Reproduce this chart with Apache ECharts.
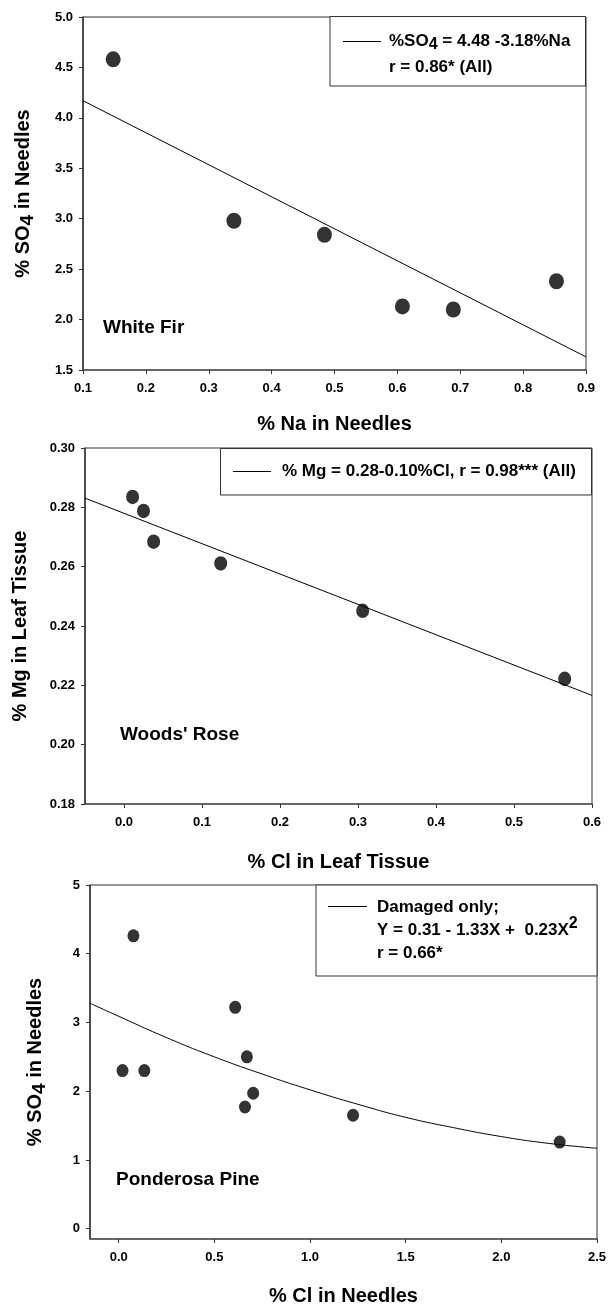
<!DOCTYPE html>
<html><head><meta charset="utf-8">
<script src="https://cdn.jsdelivr.net/npm/echarts@6/dist/echarts.min.js"></script>
<style>html,body{margin:0;padding:0;background:#fff}#c{width:610px;height:1307px}</style>
</head><body><div id="c"></div>
<script>
// ---------- Panel 1: White Fir ----------
const firNa = [0.148, 0.340, 0.484, 0.608, 0.689, 0.853];
const firSO4 = [4.58, 2.98, 2.84, 2.13, 2.10, 2.38];
const firFitX = [0.1, 0.9];
const firFitY = [4.17, 1.63];
const firXTicks = [0.1, 0.2, 0.3, 0.4, 0.5, 0.6, 0.7, 0.8, 0.9];
const firYTicks = [1.5, 2.0, 2.5, 3.0, 3.5, 4.0, 4.5, 5.0];
// ---------- Panel 2: Woods' Rose ----------
const roseCl = [0.011, 0.025, 0.038, 0.124, 0.306, 0.565];
const roseMg = [0.2835, 0.2788, 0.2684, 0.2611, 0.2451, 0.2222];
const roseFitX = [-0.05, 0.6];
const roseFitY = [0.2831, 0.2166];
const roseXTicks = [0.0, 0.1, 0.2, 0.3, 0.4, 0.5, 0.6];
const roseYTicks = [0.18, 0.20, 0.22, 0.24, 0.26, 0.28, 0.30];
// ---------- Panel 3: Ponderosa Pine ----------
const pineCl = [0.077, 0.609, 0.670, 0.020, 0.134, 0.703, 0.660, 1.225, 2.305];
const pineSO4 = [4.26, 3.22, 2.50, 2.30, 2.30, 1.97, 1.77, 1.65, 1.26];
const pineFitX = [-0.15, 0.0, 0.25, 0.5, 0.75, 1.0, 1.25, 1.5, 1.75, 2.0, 2.25, 2.5];
const pineFitY = [3.28, 3.09, 2.78, 2.50, 2.25, 2.02, 1.81, 1.62, 1.47, 1.34, 1.24, 1.17];
const pineXTicks = [0.0, 0.5, 1.0, 1.5, 2.0, 2.5];
const pineYTicks = [0, 1, 2, 3, 4, 5];

const FONT = "'Liberation Sans', Arial, sans-serif";
const zip = (a, b) => a.map((v, i) => [v, b[i]]);

const subRich = {
  s: { fontSize: 16, fontWeight: 'bold', fontFamily: FONT, fill: '#000', verticalAlign: 'bottom', height: 12 }
};
const supRich = {
  p: { fontSize: 16, fontWeight: 'bold', fontFamily: FONT, fill: '#000', verticalAlign: 'top', height: 8 }
};

function xAx(gi, min, max, ticks, digits, name, gap) {
  return {
    type: 'value', gridIndex: gi, min: min, max: max,
    axisLine: { show: true, onZero: false, lineStyle: { color: '#555', width: 1.5 } },
    axisTick: { show: true, length: 4, customValues: ticks, lineStyle: { color: '#333' } },
    axisLabel: { customValues: ticks, formatter: v => v.toFixed(digits), fontSize: 13, fontWeight: 'bold',
      color: '#000', fontFamily: FONT, margin: 12 },
    splitLine: { show: false },
    name: name, nameLocation: 'middle', nameGap: gap,
    nameTextStyle: { fontSize: 20, fontWeight: 'bold', color: '#000', fontFamily: FONT }
  };
}
function yAx(gi, min, max, ticks, digits, name, gap) {
  return {
    type: 'value', gridIndex: gi, min: min, max: max,
    axisLine: { show: true, onZero: false, lineStyle: { color: '#333', width: 1.5 } },
    axisTick: { show: true, length: 4, customValues: ticks, lineStyle: { color: '#333' } },
    axisLabel: { customValues: ticks, formatter: v => v.toFixed(digits), fontSize: 13, fontWeight: 'bold',
      color: '#000', fontFamily: FONT, margin: 10 },
    splitLine: { show: false },
    name: name, nameLocation: 'middle', nameGap: gap,
    nameTextStyle: { fontSize: 20, fontWeight: 'bold', color: '#000', fontFamily: FONT, lineHeight: 24,
      rich: { s: { fontSize: 19, fontWeight: 'bold', fontFamily: FONT, color: '#000', verticalAlign: 'bottom', height: 14 } } }
  };
}

function label(x, y, text) {
  return { type: 'text', x: x, y: y, z: 10,
    style: { text: text, fontSize: 19, fontWeight: 'bold', fontFamily: FONT, fill: '#000', verticalAlign: 'middle' } };
}
function ltext(x, y, text, rich) {
  return { type: 'text', x: x, y: y, z: 12,
    style: { text: text, fontSize: 17, fontWeight: 'bold', fontFamily: FONT, fill: '#000', verticalAlign: 'middle',
      lineHeight: 20, rich: rich || {} } };
}
function box(x, y, w, h) {
  return { type: 'rect', z: 11, shape: { x: x, y: y, width: w, height: h },
    style: { fill: '#fff', stroke: '#333', lineWidth: 1 } };
}
function sample(x1, x2, y) {
  return { type: 'line', z: 12, shape: { x1: x1, y1: y, x2: x2, y2: y }, style: { stroke: '#000', lineWidth: 1 } };
}

const chart = echarts.init(document.getElementById('c'));
chart.setOption({
  animation: false,
  backgroundColor: '#fff',
  grid: [
    { left: 83, top: 17, width: 503, height: 353, show: true, borderColor: '#333', borderWidth: 1 },
    { left: 83, top: 448, width: 509, height: 356, show: true, borderColor: '#333', borderWidth: 1 },
    { left: 90, top: 885, width: 507, height: 355, show: true, borderColor: '#333', borderWidth: 1 }
  ],
  xAxis: [
    xAx(0, 0.1, 0.9, firXTicks, 1, '% Na in Needles', 44),
    xAx(1, -0.05, 0.6, roseXTicks, 1, '% Cl in Leaf Tissue', 48),
    xAx(2, -0.15, 2.5, pineXTicks, 1, '% Cl in Needles', 47)
  ],
  yAxis: [
    yAx(0, 1.5, 5.0, firYTicks, 1, '% SO{s|4} in Needles', 48),
    yAx(1, 0.18, 0.30, roseYTicks, 2, '% Mg in Leaf Tissue', 53),
    yAx(2, -0.15, 5, pineYTicks, 0, '% SO{s|4} in Needles', 43)
  ],
  series: [
    { type: 'line', xAxisIndex: 0, yAxisIndex: 0, data: zip(firFitX, firFitY), showSymbol: false, symbol: 'none',
      lineStyle: { color: '#000', width: 1 }, z: 2 },
    { type: 'scatter', xAxisIndex: 0, yAxisIndex: 0, data: zip(firNa, firSO4), symbol: 'circle', symbolSize: [15, 16],
      itemStyle: { color: '#000' }, z: 3 },
    { type: 'line', xAxisIndex: 1, yAxisIndex: 1, data: zip(roseFitX, roseFitY), showSymbol: false, symbol: 'none',
      lineStyle: { color: '#000', width: 1 }, z: 2 },
    { type: 'scatter', xAxisIndex: 1, yAxisIndex: 1, data: zip(roseCl, roseMg), symbol: 'circle', symbolSize: [13, 14.5],
      itemStyle: { color: '#000' }, z: 3 },
    { type: 'line', xAxisIndex: 2, yAxisIndex: 2, data: zip(pineFitX, pineFitY), showSymbol: false, symbol: 'none',
      smooth: true, lineStyle: { color: '#000', width: 1 }, z: 2 },
    { type: 'scatter', xAxisIndex: 2, yAxisIndex: 2, data: zip(pineCl, pineSO4), symbol: 'circle', symbolSize: [12, 13],
      itemStyle: { color: '#000' }, z: 3 }
  ],
  graphic: [
    label(103, 328, 'White Fir'),
    label(120, 735, "Woods' Rose"),
    label(116, 1180, 'Ponderosa Pine'),
    // legend panel 1
    box(330, 16.5, 255.5, 69.5),
    sample(343, 381, 41.5),
    ltext(389, 41, '%SO{s|4} = 4.48 -3.18%Na', subRich),
    ltext(389, 67.5, 'r = 0.86* (All)'),
    // legend panel 2
    box(220.5, 448.5, 371, 46.5),
    sample(233, 271, 471.5),
    ltext(282, 471.5, '% Mg = 0.28-0.10%Cl, r = 0.98*** (All)'),
    // legend panel 3
    box(316, 885, 281, 91),
    sample(328, 367, 906.5),
    ltext(377, 907, 'Damaged only;'),
    ltext(377, 930, 'Y = 0.31 - 1.33X +  0.23X{p|2}', supRich),
    ltext(377, 953, 'r = 0.66*')
  ]
});
</script>
</body></html>
